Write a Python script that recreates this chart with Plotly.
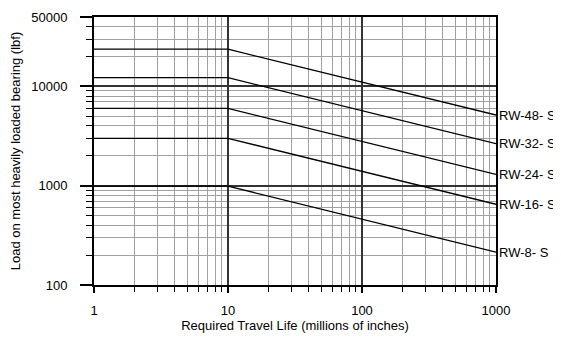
import numpy as np
import plotly.graph_objects as go

# Data
life = [1, 10, 1000]  # millions of inches
series_names = ["RW-48- S", "RW-32- S", "RW-24- S", "RW-16- S", "RW-8- S"]
load_48 = [23700, 23700, 5150]
load_32 = [12250, 12250, 2650]
load_24 = [6000, 6000, 1300]
load_16 = [3000, 3000, 650]
load_8 = [990, 990, 214]
loads = [load_48, load_32, load_24, load_16, load_8]

x_ticks = [1, 10, 100, 1000]
y_ticks = [100, 1000, 10000, 50000]
x_minor = [m * d for d in [1, 10, 100] for m in range(2, 10)]
y_minor = [m * d for d in [100, 1000] for m in range(2, 10)] + [20000, 30000, 40000]

FONT = "Liberation Sans, Arial, sans-serif"

fig = go.Figure()
for name, ys in zip(series_names, loads):
    fig.add_trace(go.Scatter(x=life, y=ys, mode="lines", name=name,
                             line=dict(color="black", width=1.3), showlegend=False,
                             hoverinfo="skip", cliponaxis=False))
    fig.add_annotation(x=np.log10(life[-1]), y=np.log10(ys[-1]), xref="x", yref="y",
                       text=name, showarrow=False, xanchor="left", yanchor="middle",
                       xshift=1, font=dict(family=FONT, size=13, color="black"))

fig.update_xaxes(type="log", range=[0, 3], tickvals=x_ticks, ticktext=[str(v) for v in x_ticks],
                 showgrid=True, gridcolor="#333333", gridwidth=1.5,
                 showline=True, linecolor="black", linewidth=2, mirror=True,
                 ticks="outside", ticklen=6, tickwidth=1.5, tickcolor="black",
                 minor=dict(tickvals=x_minor, showgrid=True, gridcolor="#a0a0a0", gridwidth=1,
                            ticks="outside", ticklen=5, tickwidth=1, tickcolor="black"),
                 tickfont=dict(family=FONT, size=13, color="black"), ticklabelstandoff=6,
                 title=dict(text="Required Travel Life (millions of inches)",
                            font=dict(family=FONT, size=13, color="black"), standoff=4),
                 zeroline=False, automargin=False)
fig.update_yaxes(type="log", range=[2, np.log10(50000)], tickvals=y_ticks,
                 ticktext=[str(v) for v in y_ticks],
                 showgrid=True, gridcolor="#333333", gridwidth=1.5,
                 showline=True, linecolor="black", linewidth=2, mirror=True,
                 ticks="outside", ticklen=12, tickwidth=1.5, tickcolor="black",
                 minor=dict(tickvals=y_minor, showgrid=True, gridcolor="#a0a0a0", gridwidth=1,
                            ticks="outside", ticklen=6, tickwidth=1, tickcolor="black"),
                 tickfont=dict(family=FONT, size=13, color="black"), ticklabelstandoff=10,
                 title=dict(text="Load on most heavily loaded bearing (lbf)",
                            font=dict(family=FONT, size=13, color="black"), standoff=8),
                 zeroline=False, automargin=False)

# page body adds an 8px offset, so the figure is 8px smaller and margins shifted
fig.update_layout(width=553, height=329, margin=dict(l=86, r=65, t=9, b=52),
                  plot_bgcolor="white", paper_bgcolor="white", showlegend=False)

fig.write_html("out.html")
